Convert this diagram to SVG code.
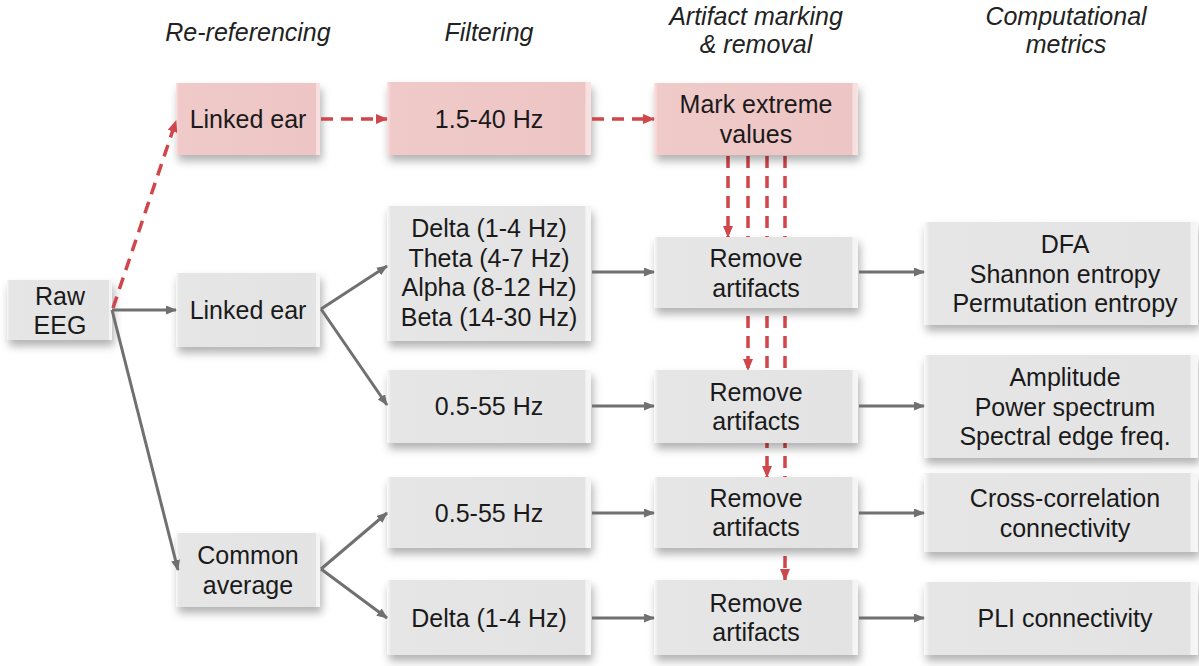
<svg xmlns="http://www.w3.org/2000/svg" width="1199" height="666" viewBox="0 0 1199 666">
<style>
text{font-family:"Liberation Sans",Arial,sans-serif;font-size:25px;fill:#1a1a1a;text-anchor:middle}
.hdr{font-style:italic;fill:#222}
.g{fill:url(#gg);filter:url(#sh)}
.p{fill:url(#pg);filter:url(#sh)}
.c{stroke:#707070;stroke-width:3;fill:none;marker-end:url(#ag)}
.d{stroke:#d0464a;stroke-width:3.5;fill:none;stroke-dasharray:12 8;marker-end:url(#ar)}
</style>
<defs>
<linearGradient id="gg" x1="0" y1="0" x2="1" y2="0">
<stop offset="0" stop-color="#fafafa"/><stop offset="0.02" stop-color="#e6e6e6"/><stop offset="0.97" stop-color="#e3e3e3"/><stop offset="0.975" stop-color="#f4f4f4"/><stop offset="1" stop-color="#f6f6f6"/>
</linearGradient>
<linearGradient id="pg" x1="0" y1="0" x2="1" y2="0">
<stop offset="0" stop-color="#fbe3e3"/><stop offset="0.02" stop-color="#f0c9c9"/><stop offset="0.97" stop-color="#edc5c5"/><stop offset="0.975" stop-color="#f8dfdf"/><stop offset="1" stop-color="#f9e2e2"/>
</linearGradient>
<filter id="sh" x="-10%" y="-20%" width="125%" height="160%">
<feDropShadow dx="2" dy="6" stdDeviation="4" flood-color="#000" flood-opacity="0.3"/>
</filter>
<marker id="ag" markerWidth="11" markerHeight="9" refX="10" refY="4.5" orient="auto" markerUnits="userSpaceOnUse"><path d="M0,0 L11,4.5 L0,9 z" fill="#707070"/></marker>
<marker id="ar" markerWidth="12" markerHeight="10" refX="11" refY="5" orient="auto" markerUnits="userSpaceOnUse"><path d="M0,0 L12,5 L0,10 z" fill="#d0464a"/></marker>
</defs>
<rect width="1199" height="666" fill="#ffffff"/>

<g id="headers">
<text class="hdr" x="248" y="41">Re-referencing</text>
<text class="hdr" x="489" y="41">Filtering</text>
<text class="hdr" x="756" y="25">Artifact marking</text>
<text class="hdr" x="756" y="53">&amp; removal</text>
<text class="hdr" x="1066" y="25">Computational</text>
<text class="hdr" x="1066" y="53">metrics</text>
</g>

<g id="connectors">
<line class="d" x1="728" y1="156" x2="728" y2="237"/>
<line class="d" x1="748" y1="156" x2="748" y2="370"/>
<line class="d" x1="767" y1="156" x2="767" y2="477"/>
<line class="d" x1="785" y1="156" x2="785" y2="580"/>
</g>

<g id="n_raw"><rect class="g" x="7" y="280" width="105" height="60"/><text x="60" y="305">Raw</text><text x="60" y="334">EEG</text></g>
<g id="n_le_top"><rect class="p" x="176" y="83" width="144" height="72"/><text x="248" y="128">Linked ear</text></g>
<g id="n_le_mid"><rect class="g" x="176" y="273" width="144" height="74"/><text x="248" y="319">Linked ear</text></g>
<g id="n_ca"><rect class="g" x="176" y="533" width="144" height="74"/><text x="248" y="564">Common</text><text x="248" y="593.5">average</text></g>
<g id="n_f_top"><rect class="p" x="387" y="82" width="204" height="73"/><text x="489" y="127.5">1.5-40 Hz</text></g>
<g id="n_f_bands"><rect class="g" x="387" y="206" width="204" height="135"/><text x="489" y="237">Delta (1-4 Hz)</text><text x="489" y="266.5">Theta (4-7 Hz)</text><text x="489" y="296">Alpha (8-12 Hz)</text><text x="489" y="325.5">Beta (14-30 Hz)</text></g>
<g id="n_f_055a"><rect class="g" x="387" y="370" width="204" height="73"/><text x="489" y="415">0.5-55 Hz</text></g>
<g id="n_f_055b"><rect class="g" x="387" y="477" width="204" height="71"/><text x="489" y="521.5">0.5-55 Hz</text></g>
<g id="n_f_delta"><rect class="g" x="387" y="580" width="204" height="75"/><text x="489" y="626.5">Delta (1-4 Hz)</text></g>
<g id="n_mark"><rect class="p" x="654" y="83" width="204" height="72"/><text x="756" y="113">Mark extreme</text><text x="756" y="142.5">values</text></g>
<g id="n_rm1"><rect class="g" x="654" y="237" width="204" height="71"/><text x="756" y="267">Remove</text><text x="756" y="296.5">artifacts</text></g>
<g id="n_rm2"><rect class="g" x="654" y="370" width="204" height="73"/><text x="756" y="400.5">Remove</text><text x="756" y="430">artifacts</text></g>
<g id="n_rm3"><rect class="g" x="654" y="477" width="204" height="71"/><text x="756" y="506.5">Remove</text><text x="756" y="536">artifacts</text></g>
<g id="n_rm4"><rect class="g" x="654" y="580" width="204" height="75"/><text x="756" y="611.5">Remove</text><text x="756" y="641">artifacts</text></g>
<g id="n_dfa"><rect class="g" x="924" y="222" width="274" height="103"/><text x="1065" y="253">DFA</text><text x="1065" y="282.5">Shannon entropy</text><text x="1065" y="312">Permutation entropy</text></g>
<g id="n_amp"><rect class="g" x="924" y="355" width="274" height="103"/><text x="1065" y="386">Amplitude</text><text x="1065" y="415.5">Power spectrum</text><text x="1065" y="445">Spectral edge freq.</text></g>
<g id="n_cc"><rect class="g" x="924" y="473" width="274" height="79"/><text x="1065" y="507">Cross-correlation</text><text x="1065" y="536.5">connectivity</text></g>
<g id="n_pli"><rect class="g" x="924" y="582" width="274" height="73"/><text x="1065" y="627">PLI connectivity</text></g>

<g id="connectors2">
<line class="d" x1="113" y1="308" x2="176" y2="121"/>
<line class="d" x1="321" y1="119" x2="387" y2="119"/>
<line class="d" x1="592" y1="119" x2="654" y2="119"/>
<line class="c" x1="112" y1="310" x2="176" y2="310"/>
<line class="c" x1="112" y1="310" x2="178" y2="570"/>
<line class="c" x1="321" y1="309" x2="387" y2="266"/>
<line class="c" x1="321" y1="309" x2="387" y2="405"/>
<line class="c" x1="321" y1="569" x2="387" y2="513"/>
<line class="c" x1="321" y1="569" x2="387" y2="618"/>
<line class="c" x1="592" y1="272" x2="654" y2="272"/>
<line class="c" x1="592" y1="406" x2="654" y2="406"/>
<line class="c" x1="592" y1="513" x2="654" y2="513"/>
<line class="c" x1="592" y1="618" x2="654" y2="618"/>
<line class="c" x1="859" y1="272" x2="924" y2="272"/>
<line class="c" x1="859" y1="406" x2="924" y2="406"/>
<line class="c" x1="859" y1="513" x2="924" y2="513"/>
<line class="c" x1="859" y1="618" x2="924" y2="618"/>
</g>
</svg>
